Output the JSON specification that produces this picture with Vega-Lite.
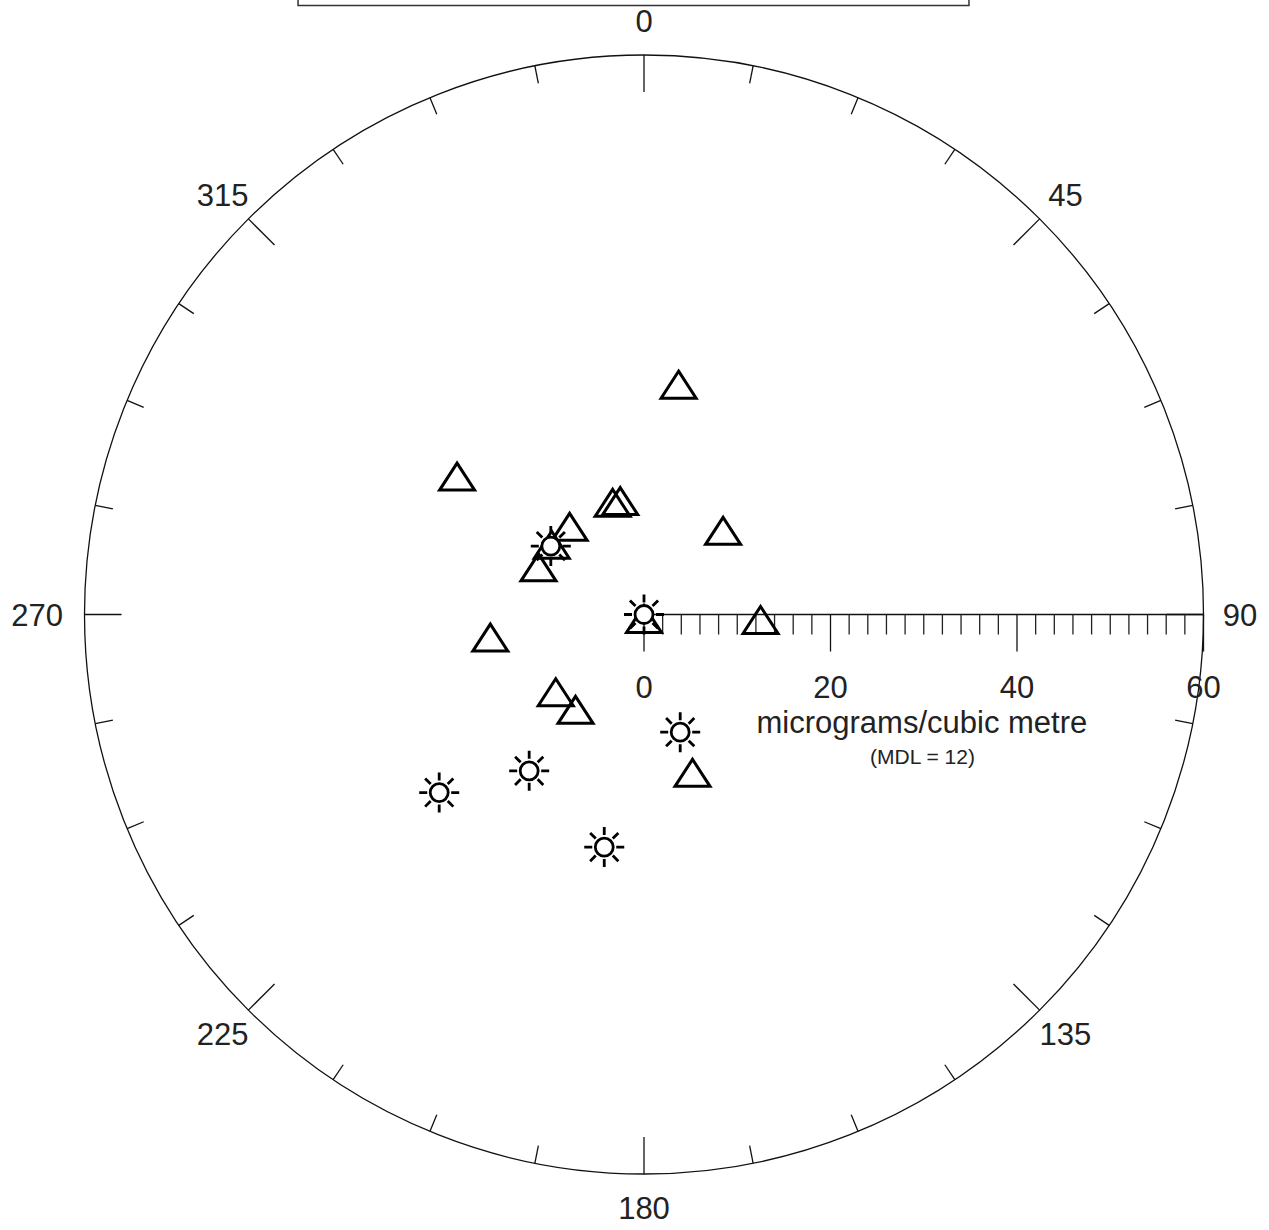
{
  "$schema": "https://vega.github.io/schema/vega-lite/v6.json",
  "width": 1269,
  "height": 1230,
  "padding": 0,
  "autosize": {"type": "none"},
  "background": "white",
  "config": {"view": {"stroke": null}, "text": {"font": "Liberation Sans", "fill": "#222"}},
  "datasets": {
    "one": [{"id": 1}],
    "triangles": [
      {"direction": 8.4, "conc": 25.4},
      {"direction": 307.3, "conc": 25.2},
      {"direction": 321.1, "conc": 12.7},
      {"direction": 344.9, "conc": 12.9},
      {"direction": 348.6, "conc": 12.9},
      {"direction": 41.9, "conc": 12.7},
      {"direction": 308.8, "conc": 12.7},
      {"direction": 296.1, "conc": 12.6},
      {"direction": 0, "conc": 0},
      {"direction": 90.5, "conc": 12.5},
      {"direction": 263.1, "conc": 16.6},
      {"direction": 230.3, "conc": 12.3},
      {"direction": 217.0, "conc": 12.2},
      {"direction": 162.5, "conc": 17.3}
    ],
    "suns": [
      {"direction": 306.3, "conc": 12.4},
      {"direction": 0, "conc": 0},
      {"direction": 162.9, "conc": 13.2},
      {"direction": 216.3, "conc": 20.8},
      {"direction": 229.0, "conc": 29.1},
      {"direction": 189.7, "conc": 25.3}
    ],
    "compassMajor": [
      {"angle": 0}, {"angle": 45}, {"angle": 90}, {"angle": 135},
      {"angle": 180}, {"angle": 225}, {"angle": 270}, {"angle": 315}
    ],
    "compassMinor": [
      {"angle": 11.25}, {"angle": 22.5}, {"angle": 33.75}, {"angle": 56.25}, {"angle": 67.5}, {"angle": 78.75},
      {"angle": 101.25}, {"angle": 112.5}, {"angle": 123.75}, {"angle": 146.25}, {"angle": 157.5}, {"angle": 168.75},
      {"angle": 191.25}, {"angle": 202.5}, {"angle": 213.75}, {"angle": 236.25}, {"angle": 247.5}, {"angle": 258.75},
      {"angle": 281.25}, {"angle": 292.5}, {"angle": 303.75}, {"angle": 326.25}, {"angle": 337.5}, {"angle": 348.75}
    ],
    "compassLabels": [
      {"angle": 0, "label": "0"}, {"angle": 45, "label": "45"}, {"angle": 90, "label": "90"},
      {"angle": 135, "label": "135"}, {"angle": 180, "label": "180"}, {"angle": 225, "label": "225"},
      {"angle": 315, "label": "315"}
    ],
    "radialMajor": [{"v": 0}, {"v": 20}, {"v": 40}, {"v": 60}],
    "radialMinor": [
      {"v": 2}, {"v": 4}, {"v": 6}, {"v": 8}, {"v": 10}, {"v": 12}, {"v": 14}, {"v": 16}, {"v": 18},
      {"v": 22}, {"v": 24}, {"v": 26}, {"v": 28}, {"v": 30}, {"v": 32}, {"v": 34}, {"v": 36}, {"v": 38},
      {"v": 42}, {"v": 44}, {"v": 46}, {"v": 48}, {"v": 50}, {"v": 52}, {"v": 54}, {"v": 56}, {"v": 58}
    ]
  },
  "layer": [
    {
      "data": {"name": "one"},
      "mark": {"type": "rect", "fill": "white", "fillOpacity": 0, "stroke": "#333", "strokeWidth": 1.5, "clip": true},
      "encoding": {
        "x": {"datum": -37.1, "type": "quantitative", "scale": {"domain": [-69.062, 67.024], "nice": false, "zero": false}, "axis": null},
        "x2": {"datum": 34.85},
        "y": {"datum": 65.31, "type": "quantitative", "scale": {"domain": [-66.005, 65.898], "nice": false, "zero": false}, "axis": null},
        "y2": {"datum": 70}
      }
    },
    {
      "data": {"name": "one"},
      "mark": {"type": "point", "shape": "circle", "filled": false, "size": 1252161, "stroke": "#111", "strokeWidth": 1.3, "opacity": 1},
      "encoding": {
        "x": {"datum": 0, "type": "quantitative", "scale": {"domain": [-69.062, 67.024], "nice": false, "zero": false}, "axis": null},
        "y": {"datum": 0, "type": "quantitative", "scale": {"domain": [-66.005, 65.898], "nice": false, "zero": false}, "axis": null}
      }
    },
    {
      "data": {"name": "compassMajor"},
      "transform": [
        {"calculate": "datum.angle*PI/180", "as": "a"},
        {"calculate": "60*sin(datum.a)", "as": "xo"},
        {"calculate": "60*cos(datum.a)", "as": "yo"},
        {"calculate": "56.03*sin(datum.a)", "as": "xi"},
        {"calculate": "56.03*cos(datum.a)", "as": "yi"}
      ],
      "mark": {"type": "rule", "stroke": "#111", "strokeWidth": 1.3},
      "encoding": {
        "x": {"field": "xo", "type": "quantitative", "scale": {"domain": [-69.062, 67.024], "nice": false, "zero": false}, "axis": null},
        "y": {"field": "yo", "type": "quantitative", "scale": {"domain": [-66.005, 65.898], "nice": false, "zero": false}, "axis": null},
        "x2": {"field": "xi"},
        "y2": {"field": "yi"}
      }
    },
    {
      "data": {"name": "compassMinor"},
      "transform": [
        {"calculate": "datum.angle*PI/180", "as": "a"},
        {"calculate": "60*sin(datum.a)", "as": "xo"},
        {"calculate": "60*cos(datum.a)", "as": "yo"},
        {"calculate": "58.07*sin(datum.a)", "as": "xi"},
        {"calculate": "58.07*cos(datum.a)", "as": "yi"}
      ],
      "mark": {"type": "rule", "stroke": "#111", "strokeWidth": 1.3},
      "encoding": {
        "x": {"field": "xo", "type": "quantitative", "scale": {"domain": [-69.062, 67.024], "nice": false, "zero": false}, "axis": null},
        "y": {"field": "yo", "type": "quantitative", "scale": {"domain": [-66.005, 65.898], "nice": false, "zero": false}, "axis": null},
        "x2": {"field": "xi"},
        "y2": {"field": "yi"}
      }
    },
    {
      "data": {"name": "one"},
      "mark": {"type": "rule", "stroke": "#111", "strokeWidth": 1.5},
      "encoding": {
        "x": {"datum": 0, "type": "quantitative", "scale": {"domain": [-69.062, 67.024], "nice": false, "zero": false}, "axis": null},
        "x2": {"datum": 60},
        "y": {"datum": 0, "type": "quantitative", "scale": {"domain": [-66.005, 65.898], "nice": false, "zero": false}, "axis": null}
      }
    },
    {
      "data": {"name": "radialMajor"},
      "mark": {"type": "rule", "stroke": "#111", "strokeWidth": 1.3},
      "encoding": {
        "x": {"field": "v", "type": "quantitative", "scale": {"domain": [-69.062, 67.024], "nice": false, "zero": false}, "axis": null},
        "y": {"datum": 0, "type": "quantitative", "scale": {"domain": [-66.005, 65.898], "nice": false, "zero": false}, "axis": null},
        "y2": {"datum": -3.97}
      }
    },
    {
      "data": {"name": "radialMinor"},
      "mark": {"type": "rule", "stroke": "#222", "strokeWidth": 1.3},
      "encoding": {
        "x": {"field": "v", "type": "quantitative", "scale": {"domain": [-69.062, 67.024], "nice": false, "zero": false}, "axis": null},
        "y": {"datum": 0, "type": "quantitative", "scale": {"domain": [-66.005, 65.898], "nice": false, "zero": false}, "axis": null},
        "y2": {"datum": -2.145}
      }
    },
    {
      "data": {"name": "radialMajor"},
      "mark": {"type": "text", "fontSize": 31, "align": "center", "baseline": "middle", "dy": 3},
      "encoding": {
        "x": {"field": "v", "type": "quantitative", "scale": {"domain": [-69.062, 67.024], "nice": false, "zero": false}, "axis": null},
        "y": {"datum": -7.67, "type": "quantitative", "scale": {"domain": [-66.005, 65.898], "nice": false, "zero": false}, "axis": null},
        "text": {"field": "v", "type": "quantitative"}
      }
    },
    {
      "data": {"name": "compassLabels"},
      "transform": [
        {"calculate": "datum.angle*PI/180", "as": "a"},
        {"calculate": "63.91*sin(datum.a)", "as": "lx"},
        {"calculate": "63.6*cos(datum.a)", "as": "ly"}
      ],
      "mark": {"type": "text", "fontSize": 31, "align": "center", "baseline": "middle", "dy": 2},
      "encoding": {
        "x": {"field": "lx", "type": "quantitative", "scale": {"domain": [-69.062, 67.024], "nice": false, "zero": false}, "axis": null},
        "y": {"field": "ly", "type": "quantitative", "scale": {"domain": [-66.005, 65.898], "nice": false, "zero": false}, "axis": null},
        "text": {"field": "label"}
      }
    },
    {
      "data": {"name": "one"},
      "mark": {"type": "text", "fontSize": 31, "align": "right", "baseline": "middle", "dy": 2},
      "encoding": {
        "x": {"datum": -62.3, "type": "quantitative", "scale": {"domain": [-69.062, 67.024], "nice": false, "zero": false}, "axis": null},
        "y": {"datum": 0, "type": "quantitative", "scale": {"domain": [-66.005, 65.898], "nice": false, "zero": false}, "axis": null},
        "text": {"value": "270"}
      }
    },
    {
      "data": {"name": "one"},
      "mark": {"type": "text", "fontSize": 31, "align": "center", "baseline": "middle", "dy": 2},
      "encoding": {
        "x": {"datum": 29.8, "type": "quantitative", "scale": {"domain": [-69.062, 67.024], "nice": false, "zero": false}, "axis": null},
        "y": {"datum": -11.53, "type": "quantitative", "scale": {"domain": [-66.005, 65.898], "nice": false, "zero": false}, "axis": null},
        "text": {"value": "micrograms/cubic metre"}
      }
    },
    {
      "data": {"name": "one"},
      "mark": {"type": "text", "fontSize": 21, "align": "center", "baseline": "middle", "dy": 1},
      "encoding": {
        "x": {"datum": 29.87, "type": "quantitative", "scale": {"domain": [-69.062, 67.024], "nice": false, "zero": false}, "axis": null},
        "y": {"datum": -15.28, "type": "quantitative", "scale": {"domain": [-66.005, 65.898], "nice": false, "zero": false}, "axis": null},
        "text": {"value": "(MDL = 12)"}
      }
    },
    {
      "data": {"name": "triangles"},
      "transform": [
        {"calculate": "datum.direction*PI/180", "as": "a"},
        {"calculate": "datum.conc*sin(datum.a)", "as": "px"},
        {"calculate": "datum.conc*cos(datum.a)", "as": "py"}
      ],
      "mark": {"type": "point", "shape": "M0,-9L17.5,18L-17.5,18Z", "size": 4, "filled": false, "stroke": "#000", "strokeWidth": 3, "opacity": 1},
      "encoding": {
        "x": {"field": "px", "type": "quantitative", "scale": {"domain": [-69.062, 67.024], "nice": false, "zero": false}, "axis": null},
        "y": {"field": "py", "type": "quantitative", "scale": {"domain": [-66.005, 65.898], "nice": false, "zero": false}, "axis": null}
      }
    },
    {
      "data": {"name": "suns"},
      "transform": [
        {"calculate": "datum.direction*PI/180", "as": "a"},
        {"calculate": "datum.conc*sin(datum.a)", "as": "px"},
        {"calculate": "datum.conc*cos(datum.a)", "as": "py"}
      ],
      "mark": {"type": "point", "shape": "M9,0A9,9 0 1,1 -9,0A9,9 0 1,1 9,0Z M12,0L20,0 M-12,0L-20,0 M0,12L0,20 M0,-12L0,-20 M8.5,8.5L14.1,14.1 M-8.5,8.5L-14.1,14.1 M8.5,-8.5L14.1,-14.1 M-8.5,-8.5L-14.1,-14.1", "size": 4, "filled": false, "fill": "white", "fillOpacity": 1, "stroke": "#000", "strokeWidth": 2.8, "opacity": 1},
      "encoding": {
        "x": {"field": "px", "type": "quantitative", "scale": {"domain": [-69.062, 67.024], "nice": false, "zero": false}, "axis": null},
        "y": {"field": "py", "type": "quantitative", "scale": {"domain": [-66.005, 65.898], "nice": false, "zero": false}, "axis": null}
      }
    }
  ]
}
